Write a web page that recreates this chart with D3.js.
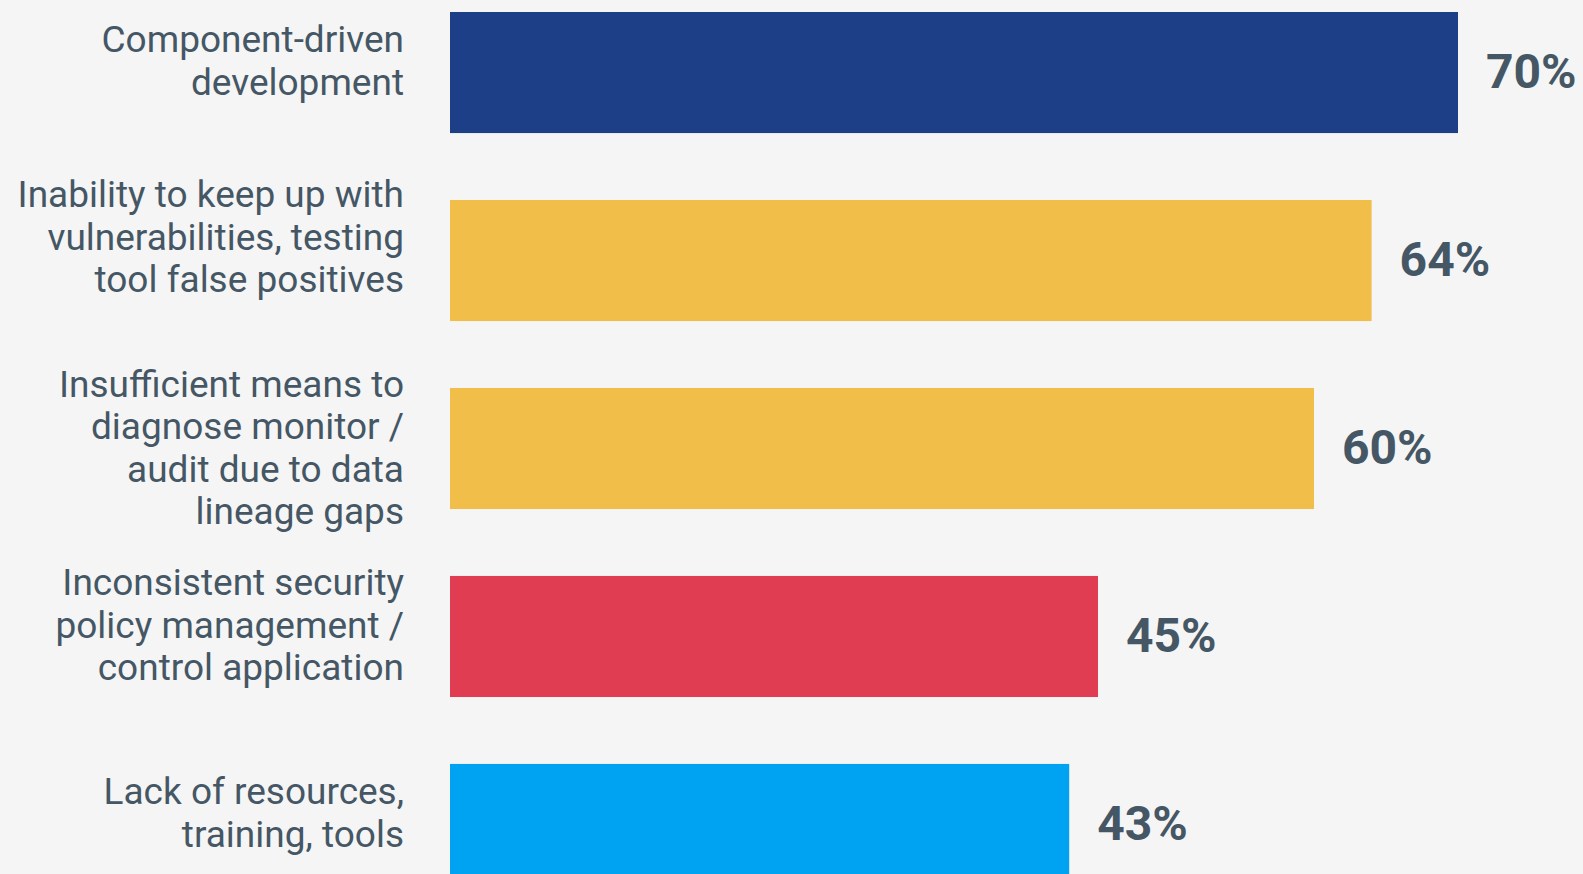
<!DOCTYPE html>
<html>
<head>
<meta charset="utf-8">
<script src="https://cdn.jsdelivr.net/npm/d3@7"></script>
<style>
  html, body { margin: 0; padding: 0; background: #f5f5f5; overflow: hidden; }
  svg { display: block; }
</style>
</head>
<body>
<svg id="chart" width="1583" height="874"></svg>
<script>
// ---- data ----
const categories = [
  "Component-driven development",
  "Inability to keep up with vulnerabilities, testing tool false positives",
  "Insufficient means to diagnose monitor / audit due to data lineage gaps",
  "Inconsistent security policy management / control application",
  "Lack of resources, training, tools"
];
const labelLines = [
  ["Component-driven", "development"],
  ["Inability to keep up with", "vulnerabilities, testing", "tool false positives"],
  ["Insufficient means to", "diagnose monitor /", "audit due to data", "lineage gaps"],
  ["Inconsistent security", "policy management /", "control application"],
  ["Lack of resources,", "training, tools"]
];
const values = [70, 64, 60, 45, 43];
const colors = ["#1d3f87", "#f1be4a", "#f1be4a", "#e03d52", "#00a2f2"];

// ---- layout ----
const svg = d3.select("#chart");
const textColor = "#455765";
const labelNudge = [0, -12, 11, 0, 0]; // small per-label vertical layout tweaks

const x = d3.scaleLinear().domain([0, 70]).range([450, 1458]);
const y = d3.scaleBand().domain(categories).range([12, 885]).paddingInner(0.356).paddingOuter(0);

svg.append("rect").attr("width", 1583).attr("height", 874).attr("fill", "#f5f5f5");

// bars
svg.selectAll("rect.bar").data(categories).enter().append("rect")
  .attr("class", "bar")
  .attr("x", x(0))
  .attr("y", d => y(d))
  .attr("width", (d, i) => x(values[i]) - x(0))
  .attr("height", y.bandwidth())
  .attr("fill", (d, i) => colors[i]);

// category labels
const labelSize = 37, lineH = 42.5;
const lab = svg.selectAll("text.cat").data(categories).enter().append("text")
  .attr("class", "cat")
  .attr("text-anchor", "end")
  .attr("font-family", "Roboto, sans-serif")
  .attr("font-size", labelSize)
  .attr("fill", textColor);
lab.each(function(d, i) {
  const lines = labelLines[i];
  const c = y(d) + y.bandwidth() / 2 - 12 + labelNudge[i] + labelSize * 0.711 / 2;
  d3.select(this).selectAll("tspan").data(lines).enter().append("tspan")
    .attr("x", 404)
    .attr("y", (l, j) => c + (j - (lines.length - 1) / 2) * lineH)
    .text(l => l);
});

// value labels
const valSize = 48;
svg.selectAll("text.val").data(categories).enter().append("text")
  .attr("class", "val")
  .attr("x", (d, i) => x(values[i]) + 28)
  .attr("y", d => y(d) + y.bandwidth() / 2 - 2 + valSize * 0.711 / 2)
  .attr("font-family", "Roboto, sans-serif")
  .attr("font-weight", 700)
  .attr("font-size", valSize)
  .attr("fill", textColor)
  .text((d, i) => values[i] + "%");
</script>
</body>
</html>
